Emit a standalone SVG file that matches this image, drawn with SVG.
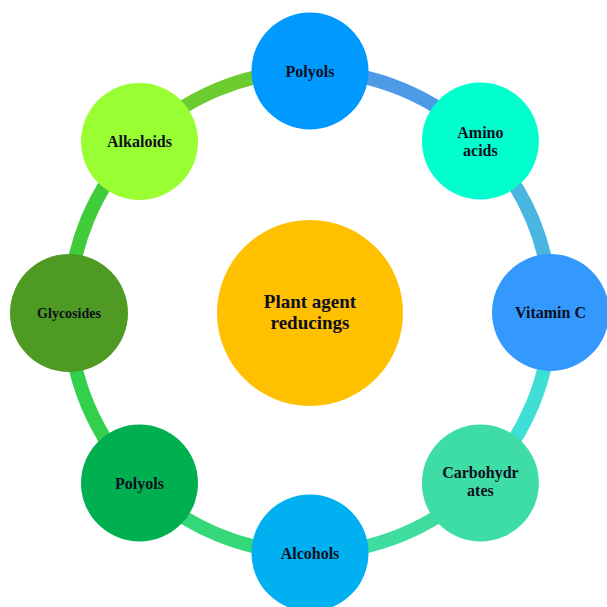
<svg xmlns="http://www.w3.org/2000/svg" width="607" height="607" viewBox="0 0 607 607">
<style>
.ring{fill:none;stroke-width:14;}
.node{stroke:none;}
.t{font-family:"Liberation Serif","Times New Roman",serif;font-weight:bold;font-size:16px;fill:#0e0e1e;text-anchor:middle;}
.s{font-size:14px;}
.c{font-size:19px;}
</style>
<rect width="607" height="607" fill="#ffffff"/>
<g id="connectors">
<path class="ring" stroke="#4D9BE6" d="M310,71 A241,241 0 0 1 480.4,141.6"/>
<path class="ring" stroke="#48B6E0" d="M480.4,141.6 A241,241 0 0 1 551,312"/>
<path class="ring" stroke="#40DFD6" d="M551,312 A241,241 0 0 1 480.4,482.4"/>
<path class="ring" stroke="#3FDCA0" d="M480.4,482.4 A241,241 0 0 1 310,553"/>
<path class="ring" stroke="#35D878" d="M310,553 A241,241 0 0 1 139.6,482.4"/>
<path class="ring" stroke="#33D04E" d="M139.6,482.4 A241,241 0 0 1 69,312"/>
<path class="ring" stroke="#3FCB3A" d="M69,312 A241,241 0 0 1 139.6,141.6"/>
<path class="ring" stroke="#6BCB2F" d="M139.6,141.6 A241,241 0 0 1 310,71"/>
</g>
<g id="center">
<circle class="node" cx="310" cy="313" r="93" fill="#FFC000"/>
<text class="t c" x="310" y="308">Plant agent</text>
<text class="t c" x="310" y="329">reducings</text>
</g>
<g id="polyols-top">
<circle class="node" cx="310" cy="71" r="58.5" fill="#0099FF"/>
<text class="t" x="310" y="76.5">Polyols</text>
</g>
<g id="amino-acids">
<circle class="node" cx="480.4" cy="141" r="58.5" fill="#00FFCC"/>
<text class="t" x="480.4" y="138">Amino</text>
<text class="t" x="480.4" y="156">acids</text>
</g>
<g id="vitamin-c">
<circle class="node" cx="550.5" cy="312.5" r="58.5" fill="#3399FF"/>
<text class="t" x="550.5" y="318">Vitamin C</text>
</g>
<g id="carbohydrates">
<circle class="node" cx="480.4" cy="483" r="58.5" fill="#3EDDA6"/>
<text class="t" x="480.4" y="478">Carbohydr</text>
<text class="t" x="480.4" y="496">ates</text>
</g>
<g id="alcohols">
<circle class="node" cx="310" cy="553" r="58.5" fill="#00B0F0"/>
<text class="t" x="310" y="558.5">Alcohols</text>
</g>
<g id="polyols-bottom">
<circle class="node" cx="139.5" cy="483" r="58.5" fill="#00B050"/>
<text class="t" x="139.5" y="488.5">Polyols</text>
</g>
<g id="glycosides">
<circle class="node" cx="69" cy="313" r="59" fill="#4E9A22"/>
<text class="t s" x="69" y="318">Glycosides</text>
</g>
<g id="alkaloids">
<circle class="node" cx="139.5" cy="141.5" r="58.5" fill="#99FF33"/>
<text class="t" x="139.5" y="147">Alkaloids</text>
</g>
</svg>
